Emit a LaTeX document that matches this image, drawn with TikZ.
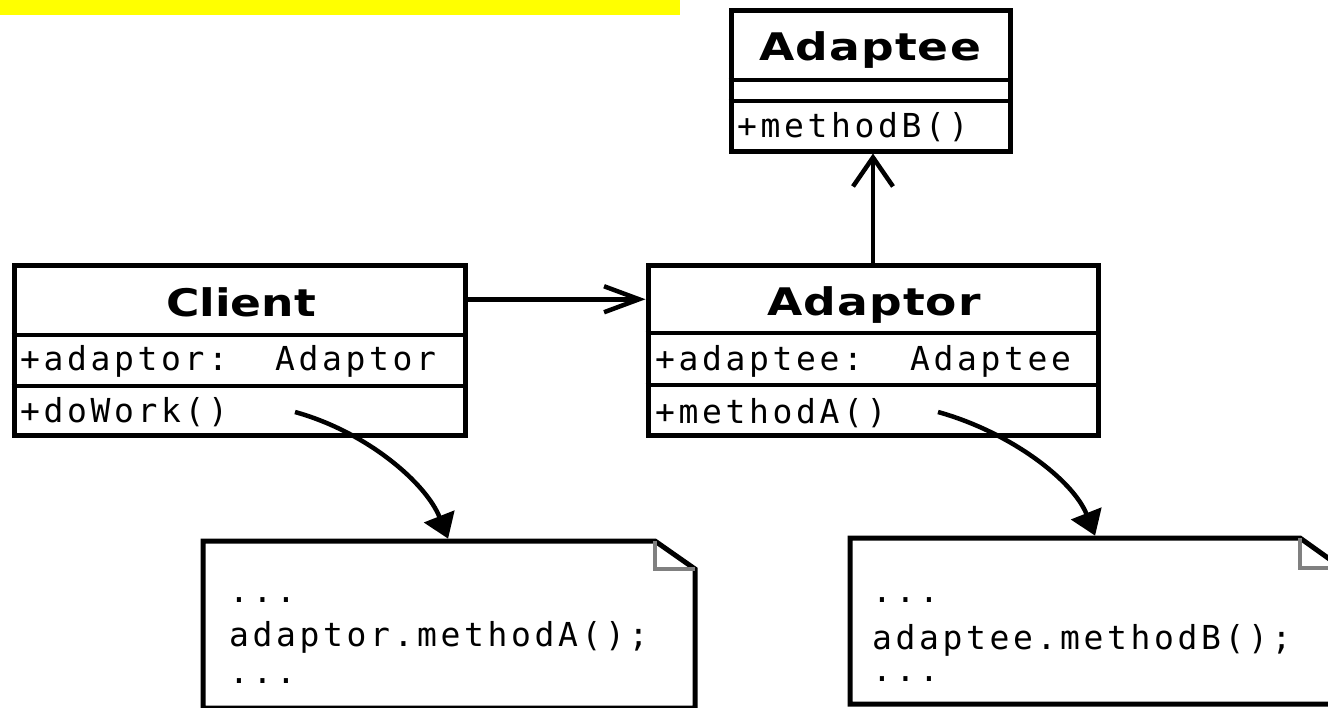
\documentclass[tikz,border=0pt]{standalone}
\usepackage{fontspec}
\usetikzlibrary{arrows.meta,calc}
\newfontfamily\titlefont{DejaVu Sans}[FakeStretch=1.2,LetterSpace=3]
\newfontfamily\clientfont{DejaVu Sans}[FakeStretch=1.2]
\newfontfamily\codefont{DejaVu Sans Mono}[LetterSpace=11]
\definecolor{banner}{HTML}{FFFF00}
\definecolor{foldgray}{HTML}{808080}
\begin{document}
\begin{tikzpicture}[x=1pt,y=-1pt,
  umlbox/.style={draw=black,line width=5pt,rectangle,inner sep=0pt,fill=white},
  divider/.style={line width=4.5pt},
  titletext/.style={anchor=base,inner sep=0pt,font=\titlefont\bfseries\fontsize{38}{40}\selectfont},
  clienttext/.style={anchor=base,inner sep=0pt,font=\clientfont\bfseries\fontsize{38}{40}\selectfont},
  code/.style={anchor=base west,inner sep=0pt,font=\codefont\fontsize{33}{36}\selectfont},
  notearea/.style={rectangle,inner sep=0pt,outer sep=0pt},
  notebox/.style={draw=black,line width=5pt,fill=white,line join=miter},
  fold/.style={draw=foldgray,line width=4pt},
  assoc/.style={line width=4.5pt,-{Straight Barb[length=35pt,width=26pt]}},
  assocup/.style={line width=4.5pt,-{Straight Barb[length=29pt,width=40pt]}},
  flow/.style={line width=4.5pt,-{Triangle[length=24pt,width=32pt]},shorten >=2.5pt}
]
\useasboundingbox (0,0) rectangle (1328,707);
\clip (0,0) rectangle (1328,707);
\fill[white] (0,0) rectangle (1328,707);
% banner
\fill[banner] (0,0) rectangle (680,15);

% Adaptee
\node[umlbox,minimum width=279pt,minimum height=141pt] (adaptee) at (870.5,80.5) {};
\draw[divider] ($(adaptee.north west)+(0,72.5)$) -- ($(adaptee.north east)+(0,72.5)$);
\draw[divider] ($(adaptee.north west)+(0,93.5)$) -- ($(adaptee.north east)+(0,93.5)$);
\node[titletext] (adapteeT) at (870,60) {Adaptee};
\node[code] (adapteeM) at (737,137) {+methodB()};

% Client
\node[umlbox,minimum width=451pt,minimum height=170pt] (client) at (239.5,350) {};
\draw[divider] ($(client.north west)+(0,72.5)$) -- ($(client.north east)+(0,72.5)$);
\draw[divider] ($(client.north west)+(0,123.5)$) -- ($(client.north east)+(0,123.5)$);
\node[clienttext] (clientT) at (241,316) {Client};
\node[code] (clientA) at (20,370) {+adaptor:\ \ Adaptor};
\node[code] (clientM) at (20,422) {+doWork()};

% Adaptor
\node[umlbox,minimum width=450pt,minimum height=170pt] (adaptor) at (873,350) {};
\draw[divider] ($(adaptor.north west)+(0,70.5)$) -- ($(adaptor.north east)+(0,70.5)$);
\draw[divider] ($(adaptor.north west)+(0,122.5)$) -- ($(adaptor.north east)+(0,122.5)$);
\node[titletext] (adaptorT) at (874,315) {Adaptor};
\node[code] (adaptorA) at (655,370) {+adaptee:\ \ Adaptee};
\node[code] (adaptorM) at (655,423) {+methodA()};

% Notes
\node[notearea,minimum width=492pt,minimum height=167pt] (note1) at (449,624.5) {};
\draw[notebox] (note1.south west) -- (note1.north west) -- ($(note1.north east)+(-40,0)$)
  -- ($(note1.north east)+(0,28)$) -- (note1.south east) -- cycle;
\draw[fold] ($(note1.north east)+(-40,0)$) -- ++(0,28) -- ++(40,0);
\node[code] (n1a) at (229,602) {...};
\node[code] (n1b) at (229,646) {adaptor.methodA();};
\node[code] (n1c) at (229,683) {...};

\node[notearea,minimum width=492pt,minimum height=166pt] (note2) at (1096,621) {};
\draw[notebox] (note2.south west) -- (note2.north west) -- ($(note2.north east)+(-42,0)$)
  -- ($(note2.north east)+(0,30)$) -- (note2.south east) -- cycle;
\draw[fold] ($(note2.north east)+(-42,0)$) -- ++(0,30) -- ++(42,0);
\node[code] (n2a) at (872,602) {...};
\node[code] (n2b) at (872,649) {adaptee.methodB();};
\node[code] (n2c) at (872,681) {...};

% connectors
\draw[assoc] ($(client.north east)!0.21!(client.south east)$) -- ($(adaptor.north west)!0.21!(adaptor.south west)$);
\draw[assocup] (adaptor.north) -- (adaptor.north |- adaptee.south);
\coordinate (m1) at (295,412);
\coordinate (m2) at (938,412);
\draw[flow] (m1) .. controls +(72,20) and +(-23,-58) .. (note1.north);
\draw[flow] (m2) .. controls +(72,20) and +(-23,-58) .. (note2.north);
\end{tikzpicture}
\end{document}
